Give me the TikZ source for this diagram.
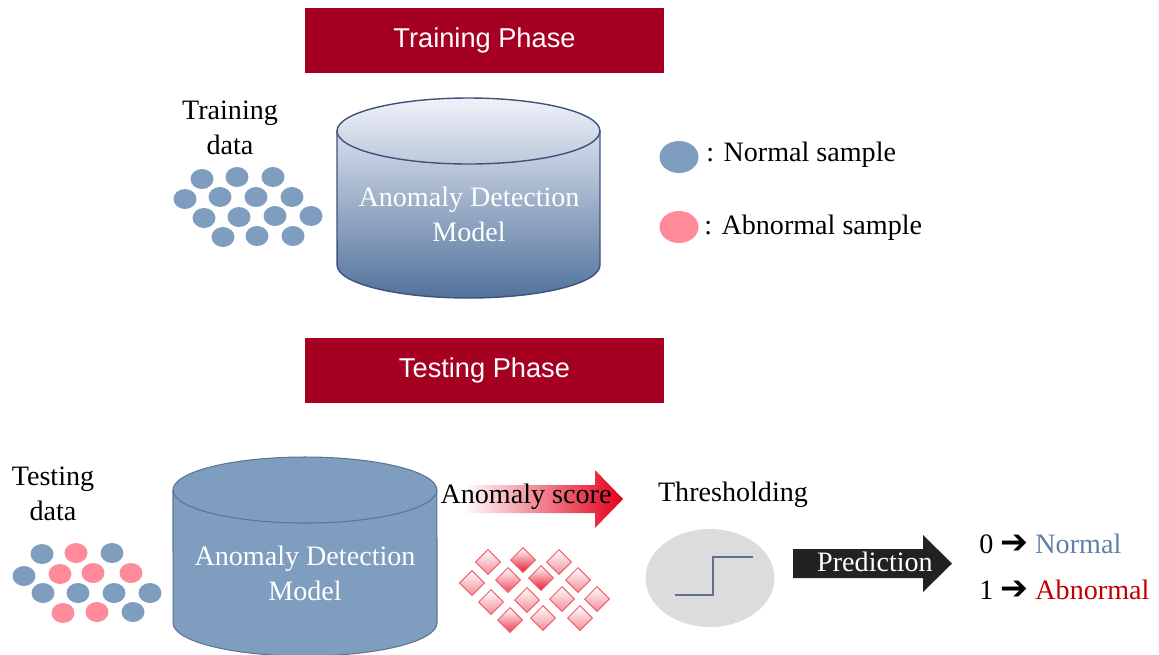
\documentclass[tikz,border=0pt]{standalone}
\usepackage{fontspec}
\setmainfont{Liberation Serif}
\newfontfamily\headfont{Liberation Sans}
\newfontfamily\symfont{DejaVu Sans}
\usetikzlibrary{
  positioning,
  shapes.geometric,
  calc,
}
\definecolor{phaseRed}{HTML}{A50021}
\definecolor{dotBlue}{HTML}{7F9DBE}
\definecolor{dotPink}{HTML}{FF8B9A}
\definecolor{cylTop}{HTML}{F0F2F9}
\definecolor{cylBottom}{HTML}{52729C}
\definecolor{cylBorder}{HTML}{3F527E}
\definecolor{cylFlatBorder}{HTML}{5E7494}
\definecolor{scoreRed}{HTML}{E3001B}
\definecolor{diamBorder}{HTML}{F2606E}
\definecolor{threshGray}{HTML}{DCDCDC}
\definecolor{stepLine}{HTML}{5F6F8F}
\definecolor{predDark}{HTML}{222222}
\definecolor{textNormal}{HTML}{5F80A8}
\definecolor{textAbnormal}{HTML}{C00000}
\tikzset{
  phasebar/.style={
    rectangle, fill=phaseRed, minimum width=7.18cm, minimum height=1.3cm,
    text=white, font=\headfont\fontsize{15.5}{18}\selectfont, inner sep=0pt,
  },
  txt/.style={font=\fontsize{16}{20}\selectfont, align=center, inner sep=0pt},
  cyltxt/.style={txt, text=white},
  normaldot/.style={
    ellipse, fill=dotBlue, minimum width=0.46cm, minimum height=0.4cm, inner sep=0pt,
  },
  abnormaldot/.style={normaldot, fill=dotPink},
  scoremark/.style={
    diamond, draw=diamBorder, line width=0.6pt, top color=white,
    bottom color=scoreRed!#1, minimum size=0.5cm, inner sep=0pt,
  },
  scoremark/.default=45,
}

\begin{document}
\begin{tikzpicture}[x=0.02cm, y=-0.02cm]

  \useasboundingbox (0,0) rectangle (1159,654);

  % Training phase
  \node[phasebar] (trainbar) at (484.5,40.5) {Training Phase};
  \node[txt] (traintxt) at (230,128) {Training\\data};

  \node[normaldot] (tr1) at (202,179) {}; \node[normaldot] (tr2) at (237,177) {}; \node[normaldot] (tr3) at (273,177) {};
  \node[normaldot] (tr4) at (185,199) {}; \node[normaldot] (tr5) at (220,197) {}; \node[normaldot] (tr6) at (256,197) {}; \node[normaldot] (tr7) at (292,197) {};
  \node[normaldot] (tr8) at (204,218) {}; \node[normaldot] (tr9) at (239,217) {}; \node[normaldot] (tr10) at (275,216) {}; \node[normaldot] (tr11) at (311,216) {};
  \node[normaldot] (tr12) at (223,237) {}; \node[normaldot] (tr13) at (257,236) {}; \node[normaldot] (tr14) at (293,236) {};

  \shade[top color=cylTop, bottom color=cylBottom, draw=cylBorder, line width=0.8pt]
    (337,131) arc[start angle=180, end angle=0, x radius=2.63cm, y radius=0.66cm]
    -- (600,265) arc[start angle=0, end angle=-180, x radius=2.63cm, y radius=0.66cm] -- cycle;
  \draw[cylBorder, line width=0.8pt]
    (337,131) arc[start angle=180, end angle=360, x radius=2.63cm, y radius=0.66cm];
  \node[cyltxt] (trainmodel) at (469,214) {Anomaly Detection\\Model};

  % Legend
  \node[normaldot, minimum width=0.78cm, minimum height=0.64cm] (lgnormal) at (679,157) {};
  \node[abnormaldot, minimum width=0.78cm, minimum height=0.64cm] (lgabnormal) at (679,227) {};
  \node[txt, anchor=west] (lgnormaltxt) at (706,155) {: Normal sample};
  \node[txt, anchor=west] (lgabnormaltxt) at (704,228) {: Abnormal sample};

  % Testing phase
  \node[phasebar] (testbar) at (484.5,370.5) {Testing Phase};
  \node[txt] (testtxt) at (53,494) {Testing\\data};

  \node[normaldot] (te1) at (42,554) {}; \node[abnormaldot] (te2) at (76,553) {}; \node[normaldot] (te3) at (112,553) {};
  \node[normaldot] (te4) at (24,576) {}; \node[abnormaldot] (te5) at (60,574) {}; \node[abnormaldot] (te6) at (93,573) {}; \node[abnormaldot] (te7) at (131,573) {};
  \node[normaldot] (te8) at (43,593) {}; \node[normaldot] (te9) at (78,593) {}; \node[normaldot] (te10) at (114,593) {}; \node[normaldot] (te11) at (150,593) {};
  \node[abnormaldot] (te12) at (63,613) {}; \node[abnormaldot] (te13) at (97,612) {}; \node[normaldot] (te14) at (133,612) {};

  \filldraw[fill=dotBlue, draw=cylFlatBorder, line width=0.6pt]
    (173,490) arc[start angle=180, end angle=0, x radius=2.64cm, y radius=0.66cm]
    -- (437,623) arc[start angle=0, end angle=-180, x radius=2.64cm, y radius=0.66cm] -- cycle;
  \draw[cylFlatBorder, line width=0.6pt]
    (173,490) arc[start angle=180, end angle=360, x radius=2.64cm, y radius=0.66cm];
  \node[cyltxt] (testmodel) at (305,573) {Anomaly Detection\\Model};

  % Anomaly score
  \shade[left color=white, right color=scoreRed]
    (463,485) -- (595,485) -- (595,470) -- (623,499) -- (595,528) -- (595,513) -- (463,513) -- cycle;
  \node[txt] (scoretxt) at (526,497) {Anomaly score};

  \node[scoremark] (sc1) at (488,562) {}; \node[scoremark=90] (sc2) at (523,560) {}; \node[scoremark] (sc3) at (559,562) {};
  \node[scoremark] (sc4) at (472,583) {}; \node[scoremark=70] (sc5) at (508,580) {}; \node[scoremark=90] (sc6) at (541,578) {}; \node[scoremark] (sc7) at (578,580) {};
  \node[scoremark] (sc8) at (491,602) {}; \node[scoremark] (sc9) at (527,600) {}; \node[scoremark] (sc10) at (562,599) {}; \node[scoremark] (sc11) at (597,599) {};
  \node[scoremark=75] (sc12) at (510,620) {}; \node[scoremark] (sc13) at (543,618) {}; \node[scoremark] (sc14) at (580,618) {};

  % Thresholding
  \node[txt] (threshtxt) at (733,495) {Thresholding};
  \node[ellipse, fill=threshGray, minimum width=2.58cm, minimum height=1.96cm, inner sep=0pt] (thresh) at (710,578) {};
  \draw[stepLine, line width=1pt] (675,595) -- (713,595) -- (713,557) -- (753,557);

  % Prediction
  \fill[predDark]
    (793,549) -- (923,549) -- (923,535) -- (952,563.5) -- (923,592) -- (923,578) -- (793,578) -- cycle;
  \node[txt, text=white] (predtxt) at (875,562) {Prediction};

  \node[txt, anchor=west] (outnormal) at (979,544)
    {0 {\symfont\fontsize{19}{20}\selectfont ➔} \textcolor{textNormal}{Normal}};
  \node[txt, anchor=west] (outabnormal) at (979,590)
    {1 {\symfont\fontsize{19}{20}\selectfont ➔} \textcolor{textAbnormal}{Abnormal}};

\end{tikzpicture}
\end{document}
